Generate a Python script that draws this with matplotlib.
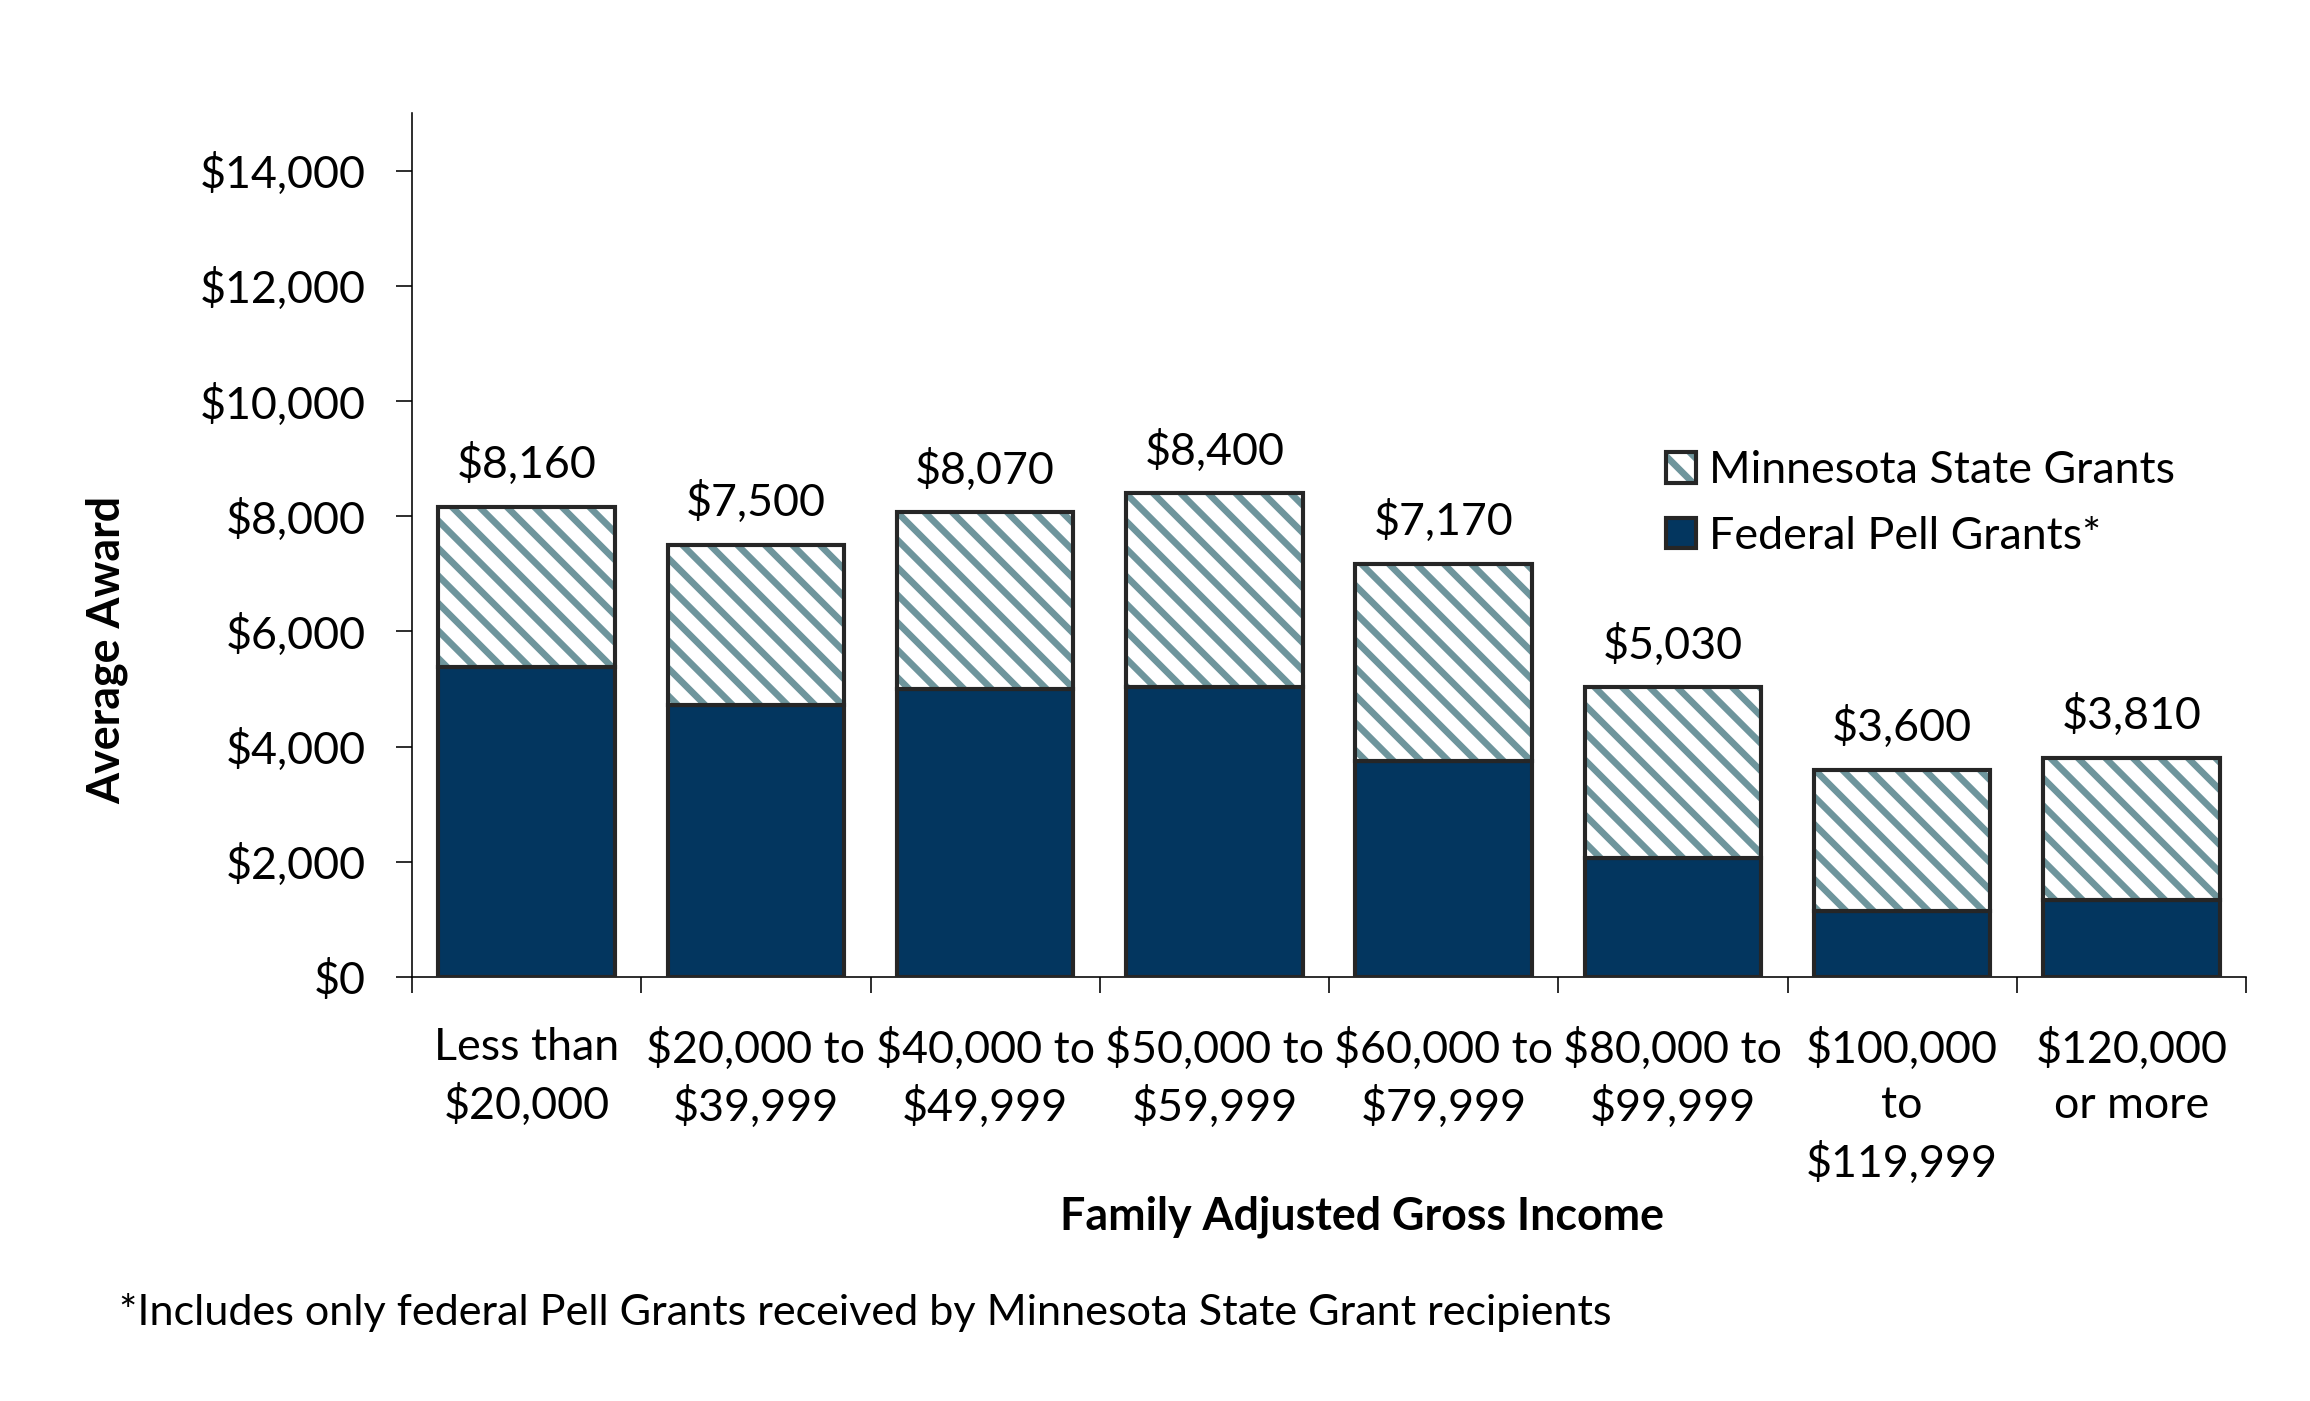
import numpy as np
import matplotlib
matplotlib.use("Agg")
import matplotlib.pyplot as plt
from matplotlib.patches import Patch
from matplotlib.legend_handler import HandlerTuple
from matplotlib.ticker import FuncFormatter, FixedLocator

# data
categories = ["Less than\n$20,000", "$20,000 to\n$39,999", "$40,000 to\n$49,999",
              "$50,000 to\n$59,999", "$60,000 to\n$79,999", "$80,000 to\n$99,999",
              "$100,000\nto\n$119,999", "$120,000\nor more"]
totals = [8160, 7500, 8070, 8400, 7170, 5030, 3600, 3810]
pell = [5380, 4720, 5000, 5030, 3750, 2060, 1140, 1330]
state = [t - p for t, p in zip(totals, pell)]

navy = "#03365F"
teal = "#6E959C"
edge = "#262626"

plt.rcParams['font.family'] = ['Lato', 'DejaVu Sans']
plt.rcParams['hatch.linewidth'] = 2.9
fs = 19.5

W, H = 2310, 1401
dpi = 165
fig = plt.figure(figsize=(W / dpi, H / dpi), dpi=dpi)
ax = fig.add_axes([412 / W, 1 - 977 / H, (2246 - 412) / W, (977 - 113) / H])

x = np.arange(len(categories))
bw = 0.77
ax.bar(x, pell, bw, color=navy, edgecolor=edge, linewidth=1.8, zorder=3)
ax.bar(x, state, bw, bottom=pell, color="white", edgecolor=teal, hatch="\\\\",
       linewidth=0, zorder=3)
ax.bar(x, state, bw, bottom=pell, fill=False, edgecolor=edge, linewidth=1.8, zorder=4)

for xi, t in zip(x, totals):
    ax.annotate("${:,}".format(t), (xi, t), xytext=(0, 9), textcoords="offset points",
                ha="center", va="bottom", fontsize=fs)

ax.set_ylim(0, 15000)
ax.set_xlim(-0.5, len(categories) - 0.5)
ax.yaxis.set_major_locator(FixedLocator(np.arange(0, 14001, 2000)))
ax.yaxis.set_major_formatter(FuncFormatter(lambda v, p: "${:,.0f}".format(v)))
ax.tick_params(axis="y", direction="out", length=7, width=0.7, pad=13, labelsize=fs)

ax.set_xticks(np.arange(-0.5, len(categories)), labels=[])
ax.set_xticks(x, labels=categories, minor=True)
ax.tick_params(axis="x", which="major", direction="out", length=7, width=0.7)
ax.tick_params(axis="x", which="minor", length=0, pad=22, labelsize=fs)
for lab in ax.get_xticklabels(minor=True):
    lab.set_linespacing(1.45)

for s in ["top", "right"]:
    ax.spines[s].set_visible(False)
for s in ["left", "bottom"]:
    ax.spines[s].set_linewidth(0.7)

fig.text(107 / W, 1 - 650 / H, "Average Award", rotation=90, ha="center", va="center",
         fontsize=fs, fontweight="bold")
fig.text(1362 / W, 1 - 1217 / H, "Family Adjusted Gross Income", ha="center", va="center",
         fontsize=fs, fontweight="bold")
fig.text(119 / W, 1 - 1325 / H, "*Includes only federal Pell Grants received by Minnesota State Grant recipients",
         ha="left", va="baseline", fontsize=18.8)

h_state = (Patch(facecolor="white", edgecolor=teal, hatch="\\\\", linewidth=0),
           Patch(fill=False, edgecolor=edge, linewidth=1.8))
h_pell = Patch(facecolor=navy, edgecolor=edge, linewidth=1.8)
ax.legend([h_state, h_pell], ["Minnesota State Grants", "Federal Pell Grants*"],
          handler_map={tuple: HandlerTuple(ndivide=1)},
          loc="upper left", bbox_to_anchor=(1666 / W, 1 - 450 / H),
          bbox_transform=fig.transFigure, frameon=False, fontsize=fs,
          handlelength=0.67, handleheight=0.67, handletextpad=0.3,
          labelspacing=0.55, borderpad=0, borderaxespad=0)

fig.savefig("out.png", dpi=dpi)
